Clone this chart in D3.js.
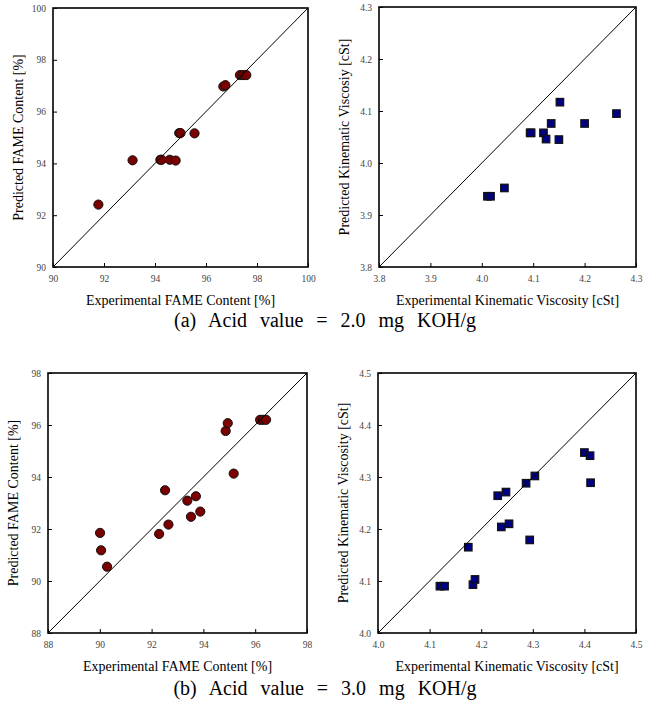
<html>
  <head>
    <script src="https://cdn.jsdelivr.net/npm/d3@7"></script>
    <style>
      body { margin: 0; background: #fff; }
      text { font-family: "Liberation Serif", "Times New Roman", serif; }
    </style>
  </head>
  <body>
    <script>
      // (a) acid value 2.0 - FAME content
      const expFameA = [91.78, 93.12, 94.21, 94.26, 94.58, 94.81, 94.95, 95.0, 95.55, 96.68, 96.76, 97.33, 97.45, 97.58];
      const predFameA = [92.41, 94.12, 94.14, 94.14, 94.14, 94.11, 95.17, 95.17, 95.16, 96.97, 97.02, 97.41, 97.41, 97.41];
      // (a) viscosity
      const expViscA = [4.011, 4.017, 4.044, 4.094, 4.096, 4.120, 4.125, 4.135, 4.150, 4.152, 4.200, 4.262];
      const predViscA = [3.936, 3.936, 3.952, 4.058, 4.058, 4.058, 4.046, 4.076, 4.045, 4.117, 4.076, 4.095];
      // (b) acid value 3.0 - FAME content
      const expFameB = [90.01, 90.05, 90.28, 92.29, 92.65, 92.52, 93.38, 93.71, 93.52, 93.88, 94.86, 94.94, 95.17, 96.19, 96.30, 96.42];
      const predFameB = [91.85, 91.18, 90.55, 91.81, 92.17, 93.49, 93.09, 93.26, 92.47, 92.67, 95.77, 96.07, 94.13, 96.20, 96.20, 96.20];
      // (b) viscosity
      const expViscB = [4.120, 4.129, 4.184, 4.188, 4.175, 4.232, 4.248, 4.239, 4.254, 4.294, 4.287, 4.304, 4.400, 4.411, 4.412];
      const predViscB = [4.090, 4.090, 4.093, 4.103, 4.165, 4.264, 4.271, 4.204, 4.210, 4.179, 4.288, 4.302, 4.347, 4.341, 4.289];

      const fameTicksA = [90, 92, 94, 96, 98, 100];
      const viscTicksA = [3.8, 3.9, 4.0, 4.1, 4.2, 4.3];
      const fameTicksB = [88, 90, 92, 94, 96, 98];
      const viscTicksB = [4.0, 4.1, 4.2, 4.3, 4.4, 4.5];

      const captions = ["(a) Acid value = 2.0 mg KOH/g", "(b) Acid value = 3.0 mg KOH/g"];

      const width = 653, height = 703;
      const svg = d3.select("body").append("svg")
          .attr("width", width)
          .attr("height", height);

      const panels = [
        { x: expFameA, y: predFameA, ticks: fameTicksA, fmt: d3.format("d"), box: [53, 8, 255, 259], shape: "circle",
          xt: "Experimental FAME Content [%]", yt: "Predicted FAME Content [%]" },
        { x: expViscA, y: predViscA, ticks: viscTicksA, fmt: d3.format(".1f"), box: [379, 7, 257, 260], shape: "square",
          xt: "Experimental Kinematic Viscosity [cSt]", yt: "Predicted Kinematic Viscosiy [cSt]" },
        { x: expFameB, y: predFameB, ticks: fameTicksB, fmt: d3.format("d"), box: [48, 373, 259, 260], shape: "circle",
          xt: "Experimental FAME Content [%]", yt: "Predicted FAME Content [%]" },
        { x: expViscB, y: predViscB, ticks: viscTicksB, fmt: d3.format(".1f"), box: [378, 373, 258, 260], shape: "square",
          xt: "Experimental Kinematic Viscosity [cSt]", yt: "Predicted Kinematic Viscosity [cSt]" }
      ];

      panels.forEach(p => {
        const [left, top, w, h] = p.box;
        const dom = d3.extent(p.ticks);
        const x = d3.scaleLinear().domain(dom).range([0, w]);
        const y = d3.scaleLinear().domain(dom).range([h, 0]);
        const g = svg.append("g").attr("transform", `translate(${left},${top})`);

        // inward ticks
        const xa = g.append("g").attr("transform", `translate(0,${h})`)
            .call(d3.axisBottom(x).tickValues(p.ticks).tickFormat(p.fmt).tickSizeInner(-4).tickSizeOuter(0).tickPadding(8));
        const ya = g.append("g")
            .call(d3.axisLeft(y).tickValues(p.ticks).tickFormat(p.fmt).tickSizeInner(-4).tickSizeOuter(0).tickPadding(7));
        [xa, ya].forEach(a => {
          a.select(".domain").remove();
          a.selectAll("line").attr("stroke", "#000");
          a.selectAll("text").attr("font-size", 9.5).attr("fill", "#444");
        });

        // markers
        const pts = p.x.map((v, i) => [v, p.y[i]]);
        if (p.shape === "circle") {
          g.selectAll("circle.pt").data(pts).join("circle")
              .attr("class", "pt")
              .attr("cx", d => x(d[0])).attr("cy", d => y(d[1]))
              .attr("r", 4.6)
              .attr("fill", "#7a0000").attr("stroke", "#111").attr("stroke-width", 1);
        } else {
          const s = 7.5;
          g.selectAll("rect.pt").data(pts).join("rect")
              .attr("class", "pt")
              .attr("x", d => x(d[0]) - s / 2).attr("y", d => y(d[1]) - s / 2)
              .attr("width", s).attr("height", s)
              .attr("fill", "#000080").attr("stroke", "#111").attr("stroke-width", 1.2);
        }

        // 1:1 line drawn over markers
        g.append("line")
            .attr("x1", x(dom[0])).attr("y1", y(dom[0]))
            .attr("x2", x(dom[1])).attr("y2", y(dom[1]))
            .attr("stroke", "#000").attr("stroke-width", 1);

        g.append("rect").attr("width", w).attr("height", h)
            .attr("fill", "none").attr("stroke", "#000").attr("stroke-width", 1.6);

        g.append("text")
            .attr("x", w / 2).attr("y", h + 38)
            .attr("text-anchor", "middle").attr("font-size", 14)
            .text(p.xt);
        g.append("text")
            .attr("transform", `translate(-30,${h / 2}) rotate(-90)`)
            .attr("text-anchor", "middle").attr("font-size", 14)
            .text(p.yt);
      });

      svg.selectAll("text.cap").data(captions).join("text")
          .attr("class", "cap")
          .attr("x", 325).attr("y", (d, i) => i === 0 ? 327 : 695)
          .attr("text-anchor", "middle").attr("font-size", 20)
          .attr("word-spacing", 8)
          .text(d => d);
    </script>
  </body>
</html>
